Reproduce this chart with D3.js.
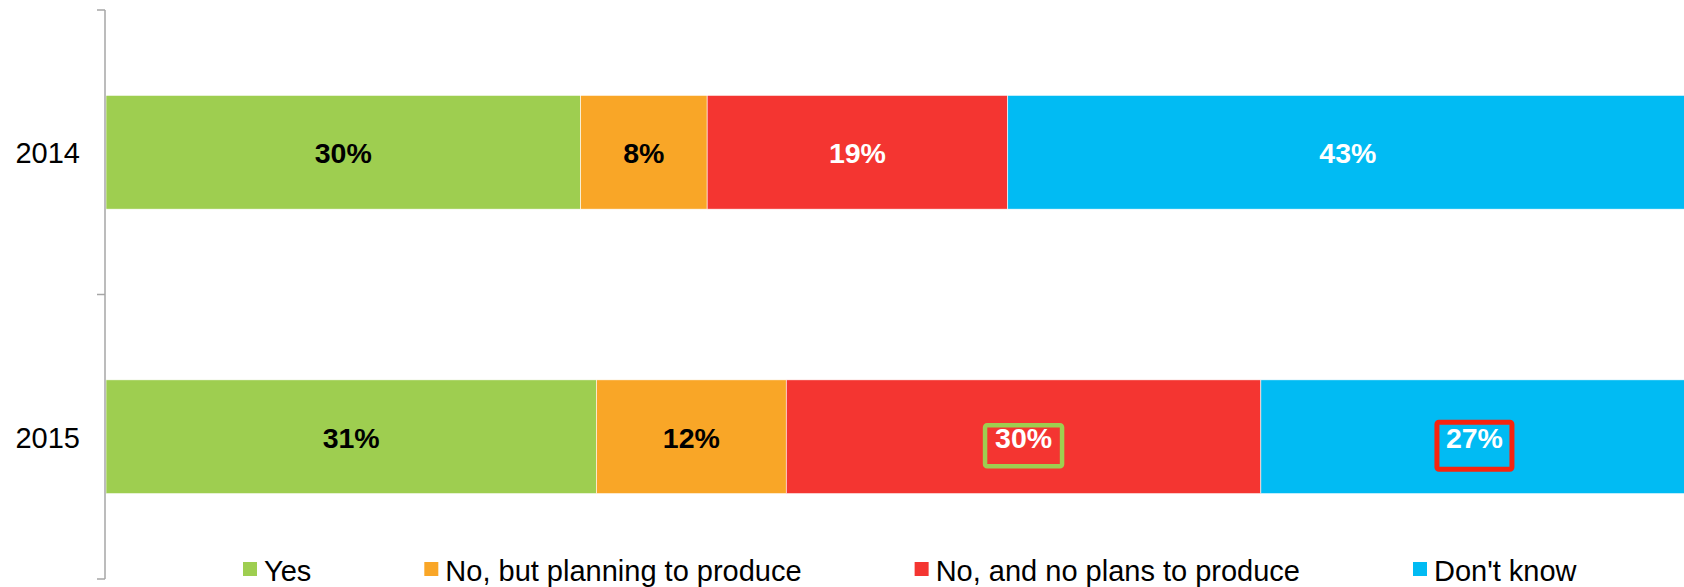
<!DOCTYPE html>
<html>
<head>
<meta charset="utf-8">
<script src="https://cdn.jsdelivr.net/npm/d3@7"></script>
<style>
  html, body { margin: 0; padding: 0; background: #fff; }
  svg { display: block; font-family: "Liberation Sans", Arial, sans-serif; }
</style>
</head>
<body>
<svg id="chart"></svg>
<script>
// categories (rows) and answers (stacked segments)
var years = ["2014", "2015"];
var answers = ["Yes", "No, but planning to produce", "No, and no plans to produce", "Don't know"];
var colors = ["#9ECE50", "#F9A627", "#F43531", "#01BBF3"];
var labelColors = ["#000", "#000", "#fff", "#fff"];

// percentages per answer, one value per year
var yesValues = [30, 31];
var planningValues = [8, 12];
var noPlansValues = [19, 30];
var dontKnowValues = [43, 27];

// labels that are boxed in the original slide
var highlightYears = ["2015", "2015"];
var highlightAnswers = ["No, and no plans to produce", "Don't know"];
var highlightColors = ["#9ECE50", "#F8240E"];

var width = 1684, height = 587;

var svg = d3.select("#chart")
    .attr("width", width)
    .attr("height", height);

// build table for the stack
var table = years.map(function(y, i) {
    return {
        year: y,
        "Yes": yesValues[i],
        "No, but planning to produce": planningValues[i],
        "No, and no plans to produce": noPlansValues[i],
        "Don't know": dontKnowValues[i]
    };
});

var series = d3.stack().keys(answers)(table);

var x = d3.scaleLinear().domain([0, 100]).range([106, 1688]);
var y = d3.scaleBand().domain(years).range([10, 579])
    .paddingInner(0.6).paddingOuter(0.3);
var color = d3.scaleOrdinal().domain(answers).range(colors);
var textColor = d3.scaleOrdinal().domain(answers).range(labelColors);

// bars
var layer = svg.append("g").selectAll("g")
    .data(series)
    .enter().append("g")
    .attr("fill", function(d) { return color(d.key); });

layer.selectAll("rect")
    .data(function(d) { return d; })
    .enter().append("rect")
    .attr("x", function(d) { return x(d[0]); })
    .attr("y", function(d) { return y(d.data.year); })
    .attr("width", function(d) { return x(d[1]) - x(d[0]); })
    .attr("height", y.bandwidth())
    .attr("stroke", "#fff")
    .attr("stroke-width", 0.6);

// value labels
layer.selectAll("text")
    .data(function(d) { return d.map(function(v) { return {v: v, key: d.key}; }); })
    .enter().append("text")
    .attr("x", function(d) { return (x(d.v[0]) + x(d.v[1])) / 2; })
    .attr("y", function(d) { return y(d.v.data.year) + y.bandwidth() / 2 + 1; })
    .attr("text-anchor", "middle")
    .attr("dominant-baseline", "central")
    .attr("font-size", 28.5)
    .attr("font-weight", "bold")
    .attr("fill", function(d) { return textColor(d.key); })
    .text(function(d) { return (d.v[1] - d.v[0]) + "%"; });

// highlight boxes
highlightYears.forEach(function(yr, i) {
    var s = series[answers.indexOf(highlightAnswers[i])];
    var v = s[years.indexOf(yr)];
    var cx = (x(v[0]) + x(v[1])) / 2;
    var cy = y(yr) + y.bandwidth() / 2 + 9;
    var w = i === 0 ? 77 : 75, h = i === 0 ? 41 : 47;
    svg.append("rect")
        .attr("x", cx - w / 2)
        .attr("y", cy - h / 2)
        .attr("width", w)
        .attr("height", h)
        .attr("rx", 2)
        .attr("fill", "none")
        .attr("stroke", highlightColors[i])
        .attr("stroke-width", i === 0 ? 4.5 : 5);
});

// y axis: line with ticks between categories
var axisX = 105;
var axis = svg.append("g").attr("stroke", "#A6A6A6").attr("stroke-width", 1.5);
var r = y.range();
axis.append("line")
    .attr("x1", axisX).attr("x2", axisX)
    .attr("y1", r[0]).attr("y2", r[1]);
d3.range(years.length + 1).forEach(function(i) {
    var ty = r[0] + i * (r[1] - r[0]) / years.length;
    axis.append("line")
        .attr("x1", axisX - 8).attr("x2", axisX)
        .attr("y1", ty).attr("y2", ty);
});

svg.append("g").selectAll("text")
    .data(years)
    .enter().append("text")
    .attr("x", 80)
    .attr("y", function(d) { return y(d) + y.bandwidth() / 2 + 1; })
    .attr("text-anchor", "end")
    .attr("dominant-baseline", "central")
    .attr("font-size", 29)
    .attr("fill", "#000")
    .text(function(d) { return d; });

// legend, laid out left to right
var legend = svg.append("g");
var lx = 243;
answers.forEach(function(a) {
    legend.append("rect")
        .attr("x", lx).attr("y", 562)
        .attr("width", 14).attr("height", 14)
        .attr("fill", color(a));
    var t = legend.append("text")
        .attr("x", lx + 21)
        .attr("y", 581)
        .attr("font-size", 29)
        .attr("fill", "#000")
        .text(a);
    lx += 21 + t.node().getComputedTextLength() + 113;
});
</script>
</body>
</html>
